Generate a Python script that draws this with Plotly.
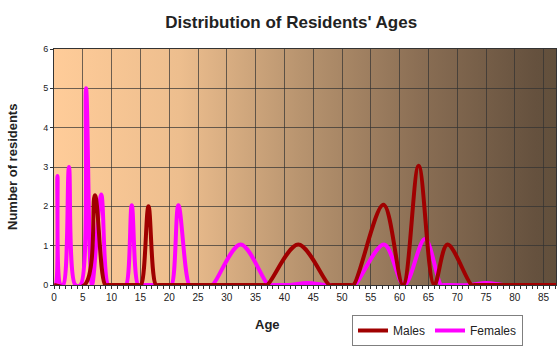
import base64
import plotly.graph_objects as go

# ---- data ----
male_ages = [0, 5.3, 7.1, 8.9, 9.5, 14.6, 15.1, 16.4, 17.7, 18.3, 36.5, 37.0, 42.4, 47.8, 48.3, 51.5, 52.0,
             57.2, 60.6, 63.3, 66.0, 68.3, 72.5, 73.0, 87.2]
male_vals = [0, 0, 2.28, 0, 0, 0, 0, 2.0, 0, 0, 0, 0, 1.03, 0, 0, 0, 0,
             2.04, 0, 3.03, 0, 1.03, 0, 0, 0]

female_ages = [0, 0.25, 0.6, 1.15, 1.6, 2.6, 3.7, 4.6, 5.56, 6.6, 8.2, 9.4, 9.9, 12.0, 12.5, 13.5, 14.6, 15.1,
               19.9, 20.4, 21.6, 23.5, 24.0, 27.0, 27.5, 32.4, 37.2, 37.7, 40.5, 41.0, 44.0, 47.0, 47.5,
               51.7, 52.2, 57.3, 60.8, 64.4, 67.2, 67.7, 72.0, 75.0, 78.0, 78.5, 87.2]
female_vals = [0, 0, 2.77, 0, 0, 3.0, 0, 0, 5.0, 0, 2.3, 0, 0, 0, 0, 2.03, 0, 0,
               0, 0, 2.03, 0, 0, 0, 0, 1.03, 0, 0, 0, 0, 0.05, 0, 0,
               0, 0, 1.03, 0, 1.17, 0, 0, 0, 0.05, 0, 0, 0]

x_ticks = list(range(0, 90, 5))
y_ticks = list(range(0, 7))

X_MAX = 87.15
Y_MAX = 6

# ---- gradient background as an SVG image ----
stops = [(0.0, "#FFCC99"), (0.25, "#EDBE8E"), (0.49, "#B8946F"),
         (0.73, "#8A6E54"), (0.96, "#65513E"), (1.0, "#62503C")]
stop_xml = "".join(f'<stop offset="{o}" stop-color="{c}"/>' for o, c in stops)
svg = ('<svg xmlns="http://www.w3.org/2000/svg" width="500" height="236" viewBox="0 0 500 236" '
       'preserveAspectRatio="none"><defs><linearGradient id="g" x1="0" y1="0" x2="1" y2="0">'
       f'{stop_xml}</linearGradient></defs><rect width="500" height="236" fill="url(#g)"/></svg>')
svg_uri = "data:image/svg+xml;base64," + base64.b64encode(svg.encode()).decode()

fig = go.Figure()
fig.add_trace(go.Scatter(x=female_ages, y=female_vals, mode="lines", name="Females",
                         line=dict(color="#FF00FF", width=4, shape="spline", smoothing=1),
                         legendrank=2, hoverinfo="skip"))
fig.add_trace(go.Scatter(x=male_ages, y=male_vals, mode="lines", name="Males",
                         line=dict(color="#A00000", width=4, shape="spline", smoothing=1),
                         legendrank=1, hoverinfo="skip"))

font = "Liberation Sans, Arial, sans-serif"
fig.update_layout(
    width=560, height=353,
    margin=dict(l=54, r=4, t=49, b=68),
    paper_bgcolor="white",
    plot_bgcolor="rgba(0,0,0,0)",
    font=dict(family=font, color="#222222"),
    title=dict(text="<b>Distribution of Residents' Ages</b>", x=0.52, xanchor="center",
               y=1 - 22.5 / 353, yanchor="middle", font=dict(size=17, color="#222222")),
    images=[dict(source=svg_uri, xref="x", yref="y", x=0, y=Y_MAX, sizex=X_MAX, sizey=Y_MAX,
                 sizing="stretch", layer="below", xanchor="left", yanchor="top")],
    showlegend=True,
    legend=dict(orientation="h", x=(523 - 54) / 502, y=(285 - 315) / 236, xanchor="right", yanchor="top",
                bordercolor="#7f7f7f", borderwidth=1, bgcolor="rgba(0,0,0,0)",
                font=dict(size=12, color="#222222"), itemwidth=30, tracegroupgap=0),
    annotations=[
        dict(text="<b>Number of residents</b>", xref="paper", yref="paper",
             x=(12 - 54) / 502, y=(285 - 167) / 236, textangle=-90, showarrow=False,
             font=dict(size=13, color="#222222"), xanchor="center", yanchor="middle"),
        dict(text="<b>Age</b>", xref="paper", yref="paper",
             x=(267 - 54) / 502, y=(285 - 324) / 236, showarrow=False,
             font=dict(size=13, color="#222222"), xanchor="center", yanchor="middle"),
    ],
)
fig.update_xaxes(range=[0, X_MAX], tickvals=x_ticks, ticktext=[str(t) for t in x_ticks],
                 showgrid=True, gridcolor="rgba(50,50,50,0.7)", gridwidth=1,
                 showline=True, linecolor="#333333", linewidth=1, mirror=True,
                 ticks="outside", ticklen=3, tickcolor="#333333",
                 minor=dict(dtick=1, ticks="outside", ticklen=3, tickcolor="#333333", showgrid=False),
                 tickfont=dict(size=10, color="#222222"), zeroline=False, fixedrange=True)
fig.update_yaxes(range=[0, Y_MAX], tickvals=y_ticks, ticktext=[str(t) for t in y_ticks],
                 showgrid=True, gridcolor="rgba(50,50,50,0.7)", gridwidth=1,
                 showline=True, linecolor="#333333", linewidth=1, mirror=True,
                 ticks="outside", ticklen=3, tickcolor="#333333",
                 tickfont=dict(size=9, color="#222222"), zeroline=False, fixedrange=True)

fig.write_html("out.html")
